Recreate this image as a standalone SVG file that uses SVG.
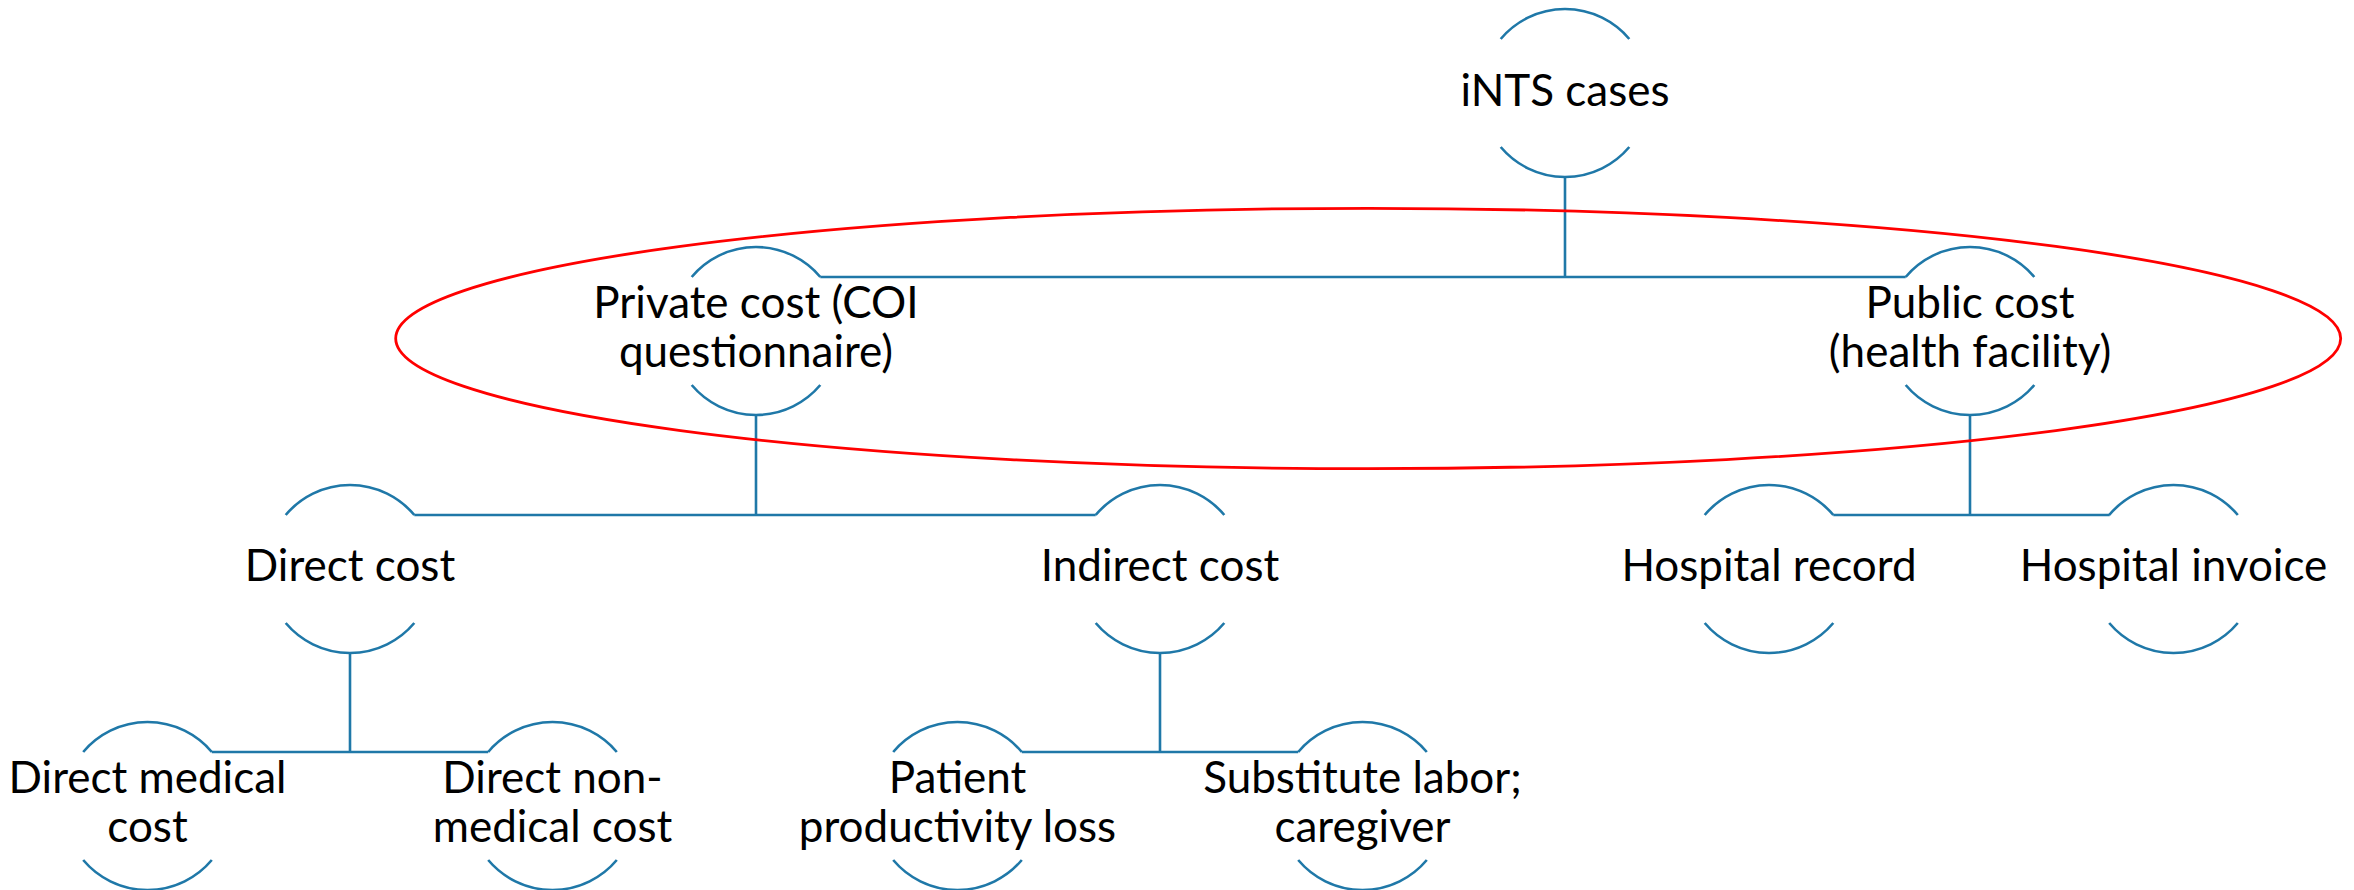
<svg xmlns="http://www.w3.org/2000/svg" width="2354" height="890" viewBox="0 0 2354 890">
<style>
.arc{fill:none;stroke:#1f78a8;stroke-width:2.6}
.ln{fill:none;stroke:#1f78a8;stroke-width:2.6}
.t{font-family:Lato,"Liberation Sans",sans-serif;font-size:44px;fill:#000;text-anchor:middle}
</style>
<defs>
<path id="node" class="arc" d="M-64.3,30 A84,84 0 0 1 64.3,30 M-64.3,138 A84,84 0 0 0 64.3,138"/>
</defs>
<rect width="2354" height="890" fill="#fff"/>
<g id="connectors">
<path class="ln" d="M1565,177 V277 M820.3,277 H1905.7"/>
<path class="ln" d="M756,415 V515 M414.3,515 H1095.7"/>
<path class="ln" d="M1970,415 V515 M1833.3,515 H2109.7"/>
<path class="ln" d="M350,653 V752 M211.8,752 H488.2"/>
<path class="ln" d="M1160,653 V752 M1021.8,752 H1298.2"/>
</g>
<g id="n-ints"><use href="#node" x="1565" y="9"/><text class="t" x="1565" y="106">iNTS cases</text></g>
<g id="n-private"><use href="#node" x="756" y="247"/><text class="t" x="756" y="318">Private cost (COI</text><text class="t" x="756" y="367">questionnaire)</text></g>
<g id="n-public"><use href="#node" x="1970" y="247"/><text class="t" x="1970" y="318">Public cost</text><text class="t" x="1970" y="367">(health facility)</text></g>
<g id="n-direct"><use href="#node" x="350" y="485"/><text class="t" x="350" y="581">Direct cost</text></g>
<g id="n-indirect"><use href="#node" x="1160" y="485"/><text class="t" x="1160" y="581">Indirect cost</text></g>
<g id="n-hrecord"><use href="#node" x="1769" y="485"/><text class="t" x="1769" y="581">Hospital record</text></g>
<g id="n-hinvoice"><use href="#node" x="2173.5" y="485"/><text class="t" x="2173.5" y="581">Hospital invoice</text></g>
<g id="n-dmed"><use href="#node" x="147.5" y="722"/><text class="t" x="147.5" y="793">Direct medical</text><text class="t" x="147.5" y="842">cost</text></g>
<g id="n-dnonmed"><use href="#node" x="552.5" y="722"/><text class="t" x="552.5" y="793">Direct non-</text><text class="t" x="552.5" y="842">medical cost</text></g>
<g id="n-patient"><use href="#node" x="957.5" y="722"/><text class="t" x="957.5" y="793">Patient</text><text class="t" x="957.5" y="842">productivity loss</text></g>
<g id="n-subst"><use href="#node" x="1362.5" y="722"/><text class="t" x="1362.5" y="793">Substitute labor;</text><text class="t" x="1362.5" y="842">caregiver</text></g>
<ellipse id="highlight" cx="1368.2" cy="338.5" rx="972.5" ry="130.2" fill="none" stroke="#ff0000" stroke-width="2.8"/>
</svg>
